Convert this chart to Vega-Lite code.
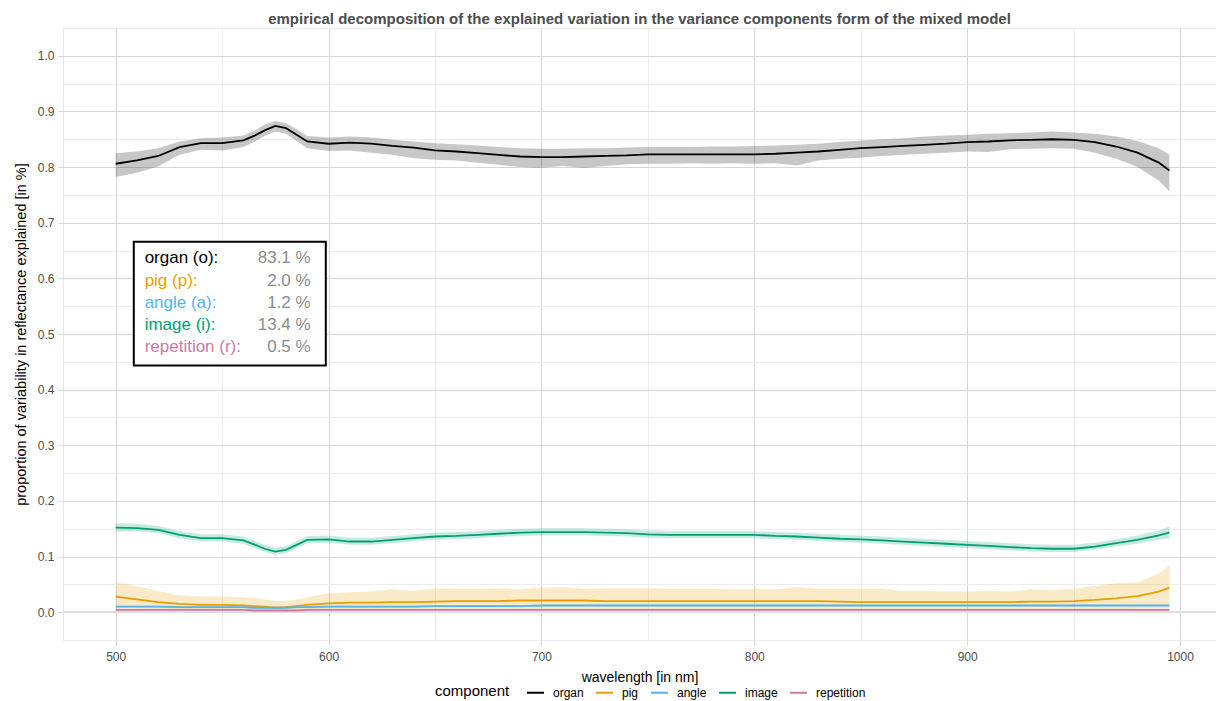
{
  "$schema": "https://vega.github.io/schema/vega-lite/v6.json",
  "width": 1153,
  "height": 612,
  "autosize": {"type": "none"},
  "padding": {"left": 63, "top": 28, "right": 0, "bottom": 61},
  "background": "white",
  "title": {"text": "empirical decomposition of the explained variation in the variance components form of the mixed model", "fontSize": 15, "fontWeight": "bold", "color": "#4d4d4d", "font": "Liberation Sans", "anchor": "middle", "offset": -5},
  "config": {
    "font": "Liberation Sans",
    "view": {"stroke": "#e6e6e6", "strokeWidth": 1}
  },
  "resolve": {"axis": {"x": "independent", "y": "independent"}},
  "datasets": {
    "note": [
      {"c": "organ", "label": "organ (o):", "pct": "83.1 %"},
      {"c": "pig", "label": "pig (p):", "pct": "2.0 %"},
      {"c": "angle", "label": "angle (a):", "pct": "1.2 %"},
      {"c": "image", "label": "image (i):", "pct": "13.4 %"},
      {"c": "repetition", "label": "repetition (r):", "pct": "0.5 %"}
    ],
    "series": [
      {"w":500,"c":"organ","v":0.806,"lo":0.782,"hi":0.825},
      {"w":510,"c":"organ","v":0.812,"lo":0.790,"hi":0.828},
      {"w":520,"c":"organ","v":0.820,"lo":0.801,"hi":0.834},
      {"w":530,"c":"organ","v":0.836,"lo":0.822,"hi":0.846},
      {"w":540,"c":"organ","v":0.843,"lo":0.831,"hi":0.852},
      {"w":550,"c":"organ","v":0.843,"lo":0.830,"hi":0.853},
      {"w":560,"c":"organ","v":0.848,"lo":0.836,"hi":0.857},
      {"w":565,"c":"organ","v":0.856,"lo":0.845,"hi":0.865},
      {"w":570,"c":"organ","v":0.866,"lo":0.856,"hi":0.876},
      {"w":575,"c":"organ","v":0.874,"lo":0.864,"hi":0.883},
      {"w":580,"c":"organ","v":0.870,"lo":0.860,"hi":0.879},
      {"w":585,"c":"organ","v":0.858,"lo":0.847,"hi":0.868},
      {"w":590,"c":"organ","v":0.846,"lo":0.834,"hi":0.856},
      {"w":600,"c":"organ","v":0.842,"lo":0.829,"hi":0.853},
      {"w":610,"c":"organ","v":0.844,"lo":0.830,"hi":0.855},
      {"w":620,"c":"organ","v":0.842,"lo":0.826,"hi":0.853},
      {"w":630,"c":"organ","v":0.838,"lo":0.822,"hi":0.849},
      {"w":640,"c":"organ","v":0.835,"lo":0.816,"hi":0.846},
      {"w":650,"c":"organ","v":0.830,"lo":0.813,"hi":0.843},
      {"w":660,"c":"organ","v":0.828,"lo":0.812,"hi":0.841},
      {"w":670,"c":"organ","v":0.825,"lo":0.808,"hi":0.839},
      {"w":680,"c":"organ","v":0.822,"lo":0.804,"hi":0.836},
      {"w":690,"c":"organ","v":0.819,"lo":0.800,"hi":0.834},
      {"w":700,"c":"organ","v":0.818,"lo":0.799,"hi":0.833},
      {"w":710,"c":"organ","v":0.818,"lo":0.802,"hi":0.833},
      {"w":720,"c":"organ","v":0.819,"lo":0.799,"hi":0.834},
      {"w":730,"c":"organ","v":0.820,"lo":0.802,"hi":0.834},
      {"w":740,"c":"organ","v":0.821,"lo":0.805,"hi":0.835},
      {"w":750,"c":"organ","v":0.823,"lo":0.806,"hi":0.836},
      {"w":760,"c":"organ","v":0.823,"lo":0.806,"hi":0.836},
      {"w":770,"c":"organ","v":0.823,"lo":0.807,"hi":0.836},
      {"w":780,"c":"organ","v":0.823,"lo":0.806,"hi":0.837},
      {"w":790,"c":"organ","v":0.823,"lo":0.807,"hi":0.837},
      {"w":800,"c":"organ","v":0.823,"lo":0.806,"hi":0.838},
      {"w":810,"c":"organ","v":0.824,"lo":0.807,"hi":0.839},
      {"w":820,"c":"organ","v":0.826,"lo":0.803,"hi":0.840},
      {"w":830,"c":"organ","v":0.828,"lo":0.812,"hi":0.842},
      {"w":840,"c":"organ","v":0.831,"lo":0.815,"hi":0.845},
      {"w":850,"c":"organ","v":0.834,"lo":0.817,"hi":0.848},
      {"w":860,"c":"organ","v":0.836,"lo":0.820,"hi":0.850},
      {"w":870,"c":"organ","v":0.838,"lo":0.822,"hi":0.852},
      {"w":880,"c":"organ","v":0.840,"lo":0.824,"hi":0.855},
      {"w":890,"c":"organ","v":0.842,"lo":0.826,"hi":0.857},
      {"w":900,"c":"organ","v":0.845,"lo":0.828,"hi":0.858},
      {"w":910,"c":"organ","v":0.846,"lo":0.827,"hi":0.860},
      {"w":920,"c":"organ","v":0.848,"lo":0.832,"hi":0.861},
      {"w":930,"c":"organ","v":0.849,"lo":0.833,"hi":0.862},
      {"w":940,"c":"organ","v":0.850,"lo":0.834,"hi":0.864},
      {"w":950,"c":"organ","v":0.849,"lo":0.833,"hi":0.862},
      {"w":960,"c":"organ","v":0.845,"lo":0.826,"hi":0.860},
      {"w":970,"c":"organ","v":0.837,"lo":0.815,"hi":0.855},
      {"w":980,"c":"organ","v":0.826,"lo":0.800,"hi":0.847},
      {"w":990,"c":"organ","v":0.808,"lo":0.776,"hi":0.834},
      {"w":995,"c":"organ","v":0.794,"lo":0.756,"hi":0.822},

      {"w":500,"c":"pig","v":0.028,"lo":0.006,"hi":0.054},
      {"w":510,"c":"pig","v":0.023,"lo":0.006,"hi":0.047},
      {"w":520,"c":"pig","v":0.018,"lo":0.005,"hi":0.038},
      {"w":530,"c":"pig","v":0.015,"lo":0.005,"hi":0.030},
      {"w":540,"c":"pig","v":0.013,"lo":0.004,"hi":0.028},
      {"w":550,"c":"pig","v":0.013,"lo":0.004,"hi":0.028},
      {"w":560,"c":"pig","v":0.012,"lo":0.004,"hi":0.027},
      {"w":565,"c":"pig","v":0.011,"lo":0.004,"hi":0.025},
      {"w":570,"c":"pig","v":0.010,"lo":0.003,"hi":0.023},
      {"w":575,"c":"pig","v":0.008,"lo":0.003,"hi":0.020},
      {"w":580,"c":"pig","v":0.009,"lo":0.003,"hi":0.020},
      {"w":585,"c":"pig","v":0.011,"lo":0.004,"hi":0.023},
      {"w":590,"c":"pig","v":0.013,"lo":0.004,"hi":0.027},
      {"w":600,"c":"pig","v":0.016,"lo":0.005,"hi":0.034},
      {"w":610,"c":"pig","v":0.017,"lo":0.005,"hi":0.036},
      {"w":620,"c":"pig","v":0.017,"lo":0.005,"hi":0.037},
      {"w":630,"c":"pig","v":0.018,"lo":0.005,"hi":0.041},
      {"w":640,"c":"pig","v":0.018,"lo":0.005,"hi":0.038},
      {"w":650,"c":"pig","v":0.019,"lo":0.005,"hi":0.043},
      {"w":660,"c":"pig","v":0.020,"lo":0.005,"hi":0.042},
      {"w":670,"c":"pig","v":0.020,"lo":0.005,"hi":0.042},
      {"w":680,"c":"pig","v":0.020,"lo":0.005,"hi":0.043},
      {"w":690,"c":"pig","v":0.021,"lo":0.005,"hi":0.041},
      {"w":700,"c":"pig","v":0.021,"lo":0.005,"hi":0.044},
      {"w":710,"c":"pig","v":0.021,"lo":0.005,"hi":0.045},
      {"w":720,"c":"pig","v":0.021,"lo":0.005,"hi":0.042},
      {"w":730,"c":"pig","v":0.020,"lo":0.005,"hi":0.043},
      {"w":740,"c":"pig","v":0.020,"lo":0.005,"hi":0.043},
      {"w":750,"c":"pig","v":0.020,"lo":0.005,"hi":0.043},
      {"w":760,"c":"pig","v":0.020,"lo":0.005,"hi":0.042},
      {"w":770,"c":"pig","v":0.020,"lo":0.005,"hi":0.042},
      {"w":780,"c":"pig","v":0.020,"lo":0.005,"hi":0.042},
      {"w":790,"c":"pig","v":0.020,"lo":0.005,"hi":0.041},
      {"w":800,"c":"pig","v":0.020,"lo":0.005,"hi":0.042},
      {"w":810,"c":"pig","v":0.020,"lo":0.005,"hi":0.041},
      {"w":820,"c":"pig","v":0.020,"lo":0.005,"hi":0.045},
      {"w":830,"c":"pig","v":0.020,"lo":0.005,"hi":0.042},
      {"w":840,"c":"pig","v":0.019,"lo":0.005,"hi":0.042},
      {"w":850,"c":"pig","v":0.018,"lo":0.005,"hi":0.042},
      {"w":860,"c":"pig","v":0.018,"lo":0.005,"hi":0.042},
      {"w":870,"c":"pig","v":0.018,"lo":0.005,"hi":0.038},
      {"w":880,"c":"pig","v":0.018,"lo":0.005,"hi":0.038},
      {"w":890,"c":"pig","v":0.018,"lo":0.005,"hi":0.037},
      {"w":900,"c":"pig","v":0.018,"lo":0.005,"hi":0.037},
      {"w":910,"c":"pig","v":0.018,"lo":0.005,"hi":0.038},
      {"w":920,"c":"pig","v":0.018,"lo":0.005,"hi":0.037},
      {"w":930,"c":"pig","v":0.019,"lo":0.005,"hi":0.041},
      {"w":940,"c":"pig","v":0.019,"lo":0.005,"hi":0.040},
      {"w":950,"c":"pig","v":0.020,"lo":0.005,"hi":0.042},
      {"w":960,"c":"pig","v":0.022,"lo":0.005,"hi":0.047},
      {"w":970,"c":"pig","v":0.025,"lo":0.005,"hi":0.052},
      {"w":980,"c":"pig","v":0.029,"lo":0.006,"hi":0.053},
      {"w":990,"c":"pig","v":0.037,"lo":0.006,"hi":0.070},
      {"w":995,"c":"pig","v":0.044,"lo":0.006,"hi":0.084},

      {"w":500,"c":"angle","v":0.010,"lo":0.008,"hi":0.012},
      {"w":510,"c":"angle","v":0.010,"lo":0.008,"hi":0.012},
      {"w":520,"c":"angle","v":0.010,"lo":0.008,"hi":0.012},
      {"w":530,"c":"angle","v":0.009,"lo":0.007,"hi":0.011},
      {"w":540,"c":"angle","v":0.009,"lo":0.007,"hi":0.011},
      {"w":550,"c":"angle","v":0.009,"lo":0.007,"hi":0.011},
      {"w":560,"c":"angle","v":0.009,"lo":0.007,"hi":0.011},
      {"w":565,"c":"angle","v":0.008,"lo":0.006,"hi":0.010},
      {"w":570,"c":"angle","v":0.008,"lo":0.006,"hi":0.010},
      {"w":575,"c":"angle","v":0.008,"lo":0.006,"hi":0.010},
      {"w":580,"c":"angle","v":0.008,"lo":0.006,"hi":0.010},
      {"w":585,"c":"angle","v":0.009,"lo":0.007,"hi":0.011},
      {"w":590,"c":"angle","v":0.009,"lo":0.007,"hi":0.011},
      {"w":600,"c":"angle","v":0.010,"lo":0.008,"hi":0.012},
      {"w":610,"c":"angle","v":0.010,"lo":0.008,"hi":0.012},
      {"w":620,"c":"angle","v":0.010,"lo":0.008,"hi":0.012},
      {"w":630,"c":"angle","v":0.010,"lo":0.008,"hi":0.012},
      {"w":640,"c":"angle","v":0.010,"lo":0.008,"hi":0.012},
      {"w":650,"c":"angle","v":0.011,"lo":0.009,"hi":0.013},
      {"w":660,"c":"angle","v":0.011,"lo":0.009,"hi":0.013},
      {"w":670,"c":"angle","v":0.011,"lo":0.009,"hi":0.013},
      {"w":680,"c":"angle","v":0.011,"lo":0.009,"hi":0.013},
      {"w":690,"c":"angle","v":0.011,"lo":0.009,"hi":0.013},
      {"w":700,"c":"angle","v":0.012,"lo":0.010,"hi":0.014},
      {"w":710,"c":"angle","v":0.012,"lo":0.010,"hi":0.014},
      {"w":720,"c":"angle","v":0.012,"lo":0.010,"hi":0.014},
      {"w":730,"c":"angle","v":0.012,"lo":0.010,"hi":0.014},
      {"w":740,"c":"angle","v":0.012,"lo":0.010,"hi":0.014},
      {"w":750,"c":"angle","v":0.012,"lo":0.010,"hi":0.014},
      {"w":760,"c":"angle","v":0.012,"lo":0.010,"hi":0.014},
      {"w":770,"c":"angle","v":0.012,"lo":0.010,"hi":0.014},
      {"w":780,"c":"angle","v":0.012,"lo":0.010,"hi":0.014},
      {"w":790,"c":"angle","v":0.012,"lo":0.010,"hi":0.014},
      {"w":800,"c":"angle","v":0.012,"lo":0.010,"hi":0.014},
      {"w":810,"c":"angle","v":0.012,"lo":0.010,"hi":0.014},
      {"w":820,"c":"angle","v":0.012,"lo":0.010,"hi":0.014},
      {"w":830,"c":"angle","v":0.012,"lo":0.010,"hi":0.014},
      {"w":840,"c":"angle","v":0.012,"lo":0.010,"hi":0.014},
      {"w":850,"c":"angle","v":0.012,"lo":0.010,"hi":0.014},
      {"w":860,"c":"angle","v":0.012,"lo":0.010,"hi":0.014},
      {"w":870,"c":"angle","v":0.012,"lo":0.010,"hi":0.014},
      {"w":880,"c":"angle","v":0.012,"lo":0.010,"hi":0.014},
      {"w":890,"c":"angle","v":0.012,"lo":0.010,"hi":0.014},
      {"w":900,"c":"angle","v":0.012,"lo":0.010,"hi":0.014},
      {"w":910,"c":"angle","v":0.012,"lo":0.010,"hi":0.014},
      {"w":920,"c":"angle","v":0.012,"lo":0.010,"hi":0.014},
      {"w":930,"c":"angle","v":0.012,"lo":0.010,"hi":0.014},
      {"w":940,"c":"angle","v":0.012,"lo":0.010,"hi":0.014},
      {"w":950,"c":"angle","v":0.012,"lo":0.010,"hi":0.014},
      {"w":960,"c":"angle","v":0.012,"lo":0.010,"hi":0.014},
      {"w":970,"c":"angle","v":0.012,"lo":0.010,"hi":0.014},
      {"w":980,"c":"angle","v":0.012,"lo":0.010,"hi":0.014},
      {"w":990,"c":"angle","v":0.012,"lo":0.010,"hi":0.014},
      {"w":995,"c":"angle","v":0.012,"lo":0.010,"hi":0.014},

      {"w":500,"c":"image","v":0.152,"lo":0.145,"hi":0.160},
      {"w":510,"c":"image","v":0.151,"lo":0.145,"hi":0.159},
      {"w":520,"c":"image","v":0.148,"lo":0.142,"hi":0.155},
      {"w":530,"c":"image","v":0.139,"lo":0.133,"hi":0.146},
      {"w":540,"c":"image","v":0.133,"lo":0.127,"hi":0.140},
      {"w":550,"c":"image","v":0.133,"lo":0.127,"hi":0.140},
      {"w":560,"c":"image","v":0.129,"lo":0.123,"hi":0.136},
      {"w":565,"c":"image","v":0.122,"lo":0.116,"hi":0.129},
      {"w":570,"c":"image","v":0.114,"lo":0.108,"hi":0.121},
      {"w":575,"c":"image","v":0.109,"lo":0.103,"hi":0.116},
      {"w":580,"c":"image","v":0.112,"lo":0.106,"hi":0.119},
      {"w":585,"c":"image","v":0.121,"lo":0.115,"hi":0.128},
      {"w":590,"c":"image","v":0.130,"lo":0.124,"hi":0.137},
      {"w":600,"c":"image","v":0.131,"lo":0.125,"hi":0.138},
      {"w":610,"c":"image","v":0.127,"lo":0.121,"hi":0.134},
      {"w":620,"c":"image","v":0.127,"lo":0.121,"hi":0.134},
      {"w":630,"c":"image","v":0.130,"lo":0.124,"hi":0.137},
      {"w":640,"c":"image","v":0.133,"lo":0.127,"hi":0.140},
      {"w":650,"c":"image","v":0.136,"lo":0.130,"hi":0.143},
      {"w":660,"c":"image","v":0.137,"lo":0.131,"hi":0.144},
      {"w":670,"c":"image","v":0.139,"lo":0.133,"hi":0.146},
      {"w":680,"c":"image","v":0.141,"lo":0.135,"hi":0.148},
      {"w":690,"c":"image","v":0.143,"lo":0.137,"hi":0.150},
      {"w":700,"c":"image","v":0.144,"lo":0.138,"hi":0.151},
      {"w":710,"c":"image","v":0.144,"lo":0.138,"hi":0.151},
      {"w":720,"c":"image","v":0.144,"lo":0.138,"hi":0.151},
      {"w":730,"c":"image","v":0.143,"lo":0.137,"hi":0.150},
      {"w":740,"c":"image","v":0.142,"lo":0.136,"hi":0.149},
      {"w":750,"c":"image","v":0.140,"lo":0.134,"hi":0.147},
      {"w":760,"c":"image","v":0.139,"lo":0.133,"hi":0.146},
      {"w":770,"c":"image","v":0.139,"lo":0.133,"hi":0.146},
      {"w":780,"c":"image","v":0.139,"lo":0.133,"hi":0.146},
      {"w":790,"c":"image","v":0.139,"lo":0.133,"hi":0.146},
      {"w":800,"c":"image","v":0.139,"lo":0.133,"hi":0.146},
      {"w":810,"c":"image","v":0.137,"lo":0.131,"hi":0.144},
      {"w":820,"c":"image","v":0.136,"lo":0.130,"hi":0.143},
      {"w":830,"c":"image","v":0.134,"lo":0.128,"hi":0.141},
      {"w":840,"c":"image","v":0.132,"lo":0.126,"hi":0.139},
      {"w":850,"c":"image","v":0.131,"lo":0.125,"hi":0.138},
      {"w":860,"c":"image","v":0.129,"lo":0.123,"hi":0.136},
      {"w":870,"c":"image","v":0.127,"lo":0.121,"hi":0.134},
      {"w":880,"c":"image","v":0.125,"lo":0.119,"hi":0.132},
      {"w":890,"c":"image","v":0.123,"lo":0.117,"hi":0.130},
      {"w":900,"c":"image","v":0.121,"lo":0.115,"hi":0.128},
      {"w":910,"c":"image","v":0.119,"lo":0.113,"hi":0.126},
      {"w":920,"c":"image","v":0.117,"lo":0.111,"hi":0.124},
      {"w":930,"c":"image","v":0.115,"lo":0.109,"hi":0.122},
      {"w":940,"c":"image","v":0.114,"lo":0.108,"hi":0.121},
      {"w":950,"c":"image","v":0.114,"lo":0.108,"hi":0.121},
      {"w":960,"c":"image","v":0.118,"lo":0.112,"hi":0.125},
      {"w":970,"c":"image","v":0.124,"lo":0.118,"hi":0.131},
      {"w":980,"c":"image","v":0.130,"lo":0.123,"hi":0.138},
      {"w":990,"c":"image","v":0.138,"lo":0.130,"hi":0.147},
      {"w":995,"c":"image","v":0.143,"lo":0.133,"hi":0.154},

      {"w":500,"c":"repetition","v":0.004,"lo":0.001,"hi":0.006},
      {"w":510,"c":"repetition","v":0.004,"lo":0.001,"hi":0.006},
      {"w":520,"c":"repetition","v":0.004,"lo":0.001,"hi":0.006},
      {"w":530,"c":"repetition","v":0.004,"lo":0.001,"hi":0.006},
      {"w":540,"c":"repetition","v":0.004,"lo":0.001,"hi":0.006},
      {"w":550,"c":"repetition","v":0.004,"lo":0.001,"hi":0.006},
      {"w":560,"c":"repetition","v":0.004,"lo":0.001,"hi":0.006},
      {"w":565,"c":"repetition","v":0.003,"lo":0.001,"hi":0.005},
      {"w":570,"c":"repetition","v":0.003,"lo":0.001,"hi":0.005},
      {"w":575,"c":"repetition","v":0.003,"lo":0.001,"hi":0.005},
      {"w":580,"c":"repetition","v":0.003,"lo":0.001,"hi":0.005},
      {"w":585,"c":"repetition","v":0.003,"lo":0.001,"hi":0.005},
      {"w":590,"c":"repetition","v":0.004,"lo":0.001,"hi":0.006},
      {"w":600,"c":"repetition","v":0.004,"lo":0.001,"hi":0.006},
      {"w":610,"c":"repetition","v":0.004,"lo":0.001,"hi":0.006},
      {"w":620,"c":"repetition","v":0.004,"lo":0.001,"hi":0.006},
      {"w":630,"c":"repetition","v":0.004,"lo":0.001,"hi":0.006},
      {"w":640,"c":"repetition","v":0.004,"lo":0.001,"hi":0.006},
      {"w":650,"c":"repetition","v":0.004,"lo":0.001,"hi":0.006},
      {"w":660,"c":"repetition","v":0.004,"lo":0.001,"hi":0.006},
      {"w":670,"c":"repetition","v":0.004,"lo":0.001,"hi":0.006},
      {"w":680,"c":"repetition","v":0.004,"lo":0.001,"hi":0.006},
      {"w":690,"c":"repetition","v":0.004,"lo":0.001,"hi":0.006},
      {"w":700,"c":"repetition","v":0.004,"lo":0.001,"hi":0.006},
      {"w":710,"c":"repetition","v":0.004,"lo":0.001,"hi":0.006},
      {"w":720,"c":"repetition","v":0.004,"lo":0.001,"hi":0.006},
      {"w":730,"c":"repetition","v":0.004,"lo":0.001,"hi":0.006},
      {"w":740,"c":"repetition","v":0.004,"lo":0.001,"hi":0.006},
      {"w":750,"c":"repetition","v":0.004,"lo":0.001,"hi":0.006},
      {"w":760,"c":"repetition","v":0.004,"lo":0.001,"hi":0.006},
      {"w":770,"c":"repetition","v":0.004,"lo":0.001,"hi":0.006},
      {"w":780,"c":"repetition","v":0.004,"lo":0.001,"hi":0.006},
      {"w":790,"c":"repetition","v":0.004,"lo":0.001,"hi":0.006},
      {"w":800,"c":"repetition","v":0.004,"lo":0.001,"hi":0.006},
      {"w":810,"c":"repetition","v":0.004,"lo":0.001,"hi":0.006},
      {"w":820,"c":"repetition","v":0.004,"lo":0.001,"hi":0.006},
      {"w":830,"c":"repetition","v":0.004,"lo":0.001,"hi":0.006},
      {"w":840,"c":"repetition","v":0.004,"lo":0.001,"hi":0.006},
      {"w":850,"c":"repetition","v":0.004,"lo":0.001,"hi":0.006},
      {"w":860,"c":"repetition","v":0.004,"lo":0.001,"hi":0.006},
      {"w":870,"c":"repetition","v":0.004,"lo":0.001,"hi":0.006},
      {"w":880,"c":"repetition","v":0.004,"lo":0.001,"hi":0.006},
      {"w":890,"c":"repetition","v":0.004,"lo":0.001,"hi":0.006},
      {"w":900,"c":"repetition","v":0.004,"lo":0.001,"hi":0.006},
      {"w":910,"c":"repetition","v":0.004,"lo":0.001,"hi":0.006},
      {"w":920,"c":"repetition","v":0.004,"lo":0.001,"hi":0.006},
      {"w":930,"c":"repetition","v":0.004,"lo":0.001,"hi":0.006},
      {"w":940,"c":"repetition","v":0.004,"lo":0.001,"hi":0.006},
      {"w":950,"c":"repetition","v":0.004,"lo":0.001,"hi":0.006},
      {"w":960,"c":"repetition","v":0.004,"lo":0.001,"hi":0.006},
      {"w":970,"c":"repetition","v":0.004,"lo":0.001,"hi":0.006},
      {"w":980,"c":"repetition","v":0.004,"lo":0.001,"hi":0.006},
      {"w":990,"c":"repetition","v":0.004,"lo":0.001,"hi":0.006},
      {"w":995,"c":"repetition","v":0.004,"lo":0.001,"hi":0.006}
    ]
  },
  "layer": [
    {
      "data": {"name": "series"},
      "mark": {"type": "area", "fillOpacity": 0.22},
      "encoding": {
        "x": {
          "field": "w", "type": "quantitative",
          "scale": {"domain": [475.25, 1016.9], "nice": false, "zero": false},
          "axis": {
            "title": "wavelength [in nm]",
            "values": [500, 550, 600, 650, 700, 750, 800, 850, 900, 950, 1000],
            "labelExpr": "datum.value % 100 === 0 ? datum.label : ''",
            "format": "d",
            "labelOverlap": false, "labelFlush": false,
            "domain": false,
            "grid": true,
            "gridColor": {"condition": {"test": "datum.value % 100 === 0", "value": "#d6d6d6"}, "value": "#ececec"},
            "gridWidth": 1,
            "ticks": true, "tickSize": 5, "tickColor": "#d6d6d6",
            "tickOpacity": {"condition": {"test": "datum.value % 100 === 0", "value": 1}, "value": 0},
            "labelFontSize": 12, "labelColor": "#4d4d4d", "labelPadding": 6,
            "titleFontSize": 14, "titleFontWeight": "normal", "titleColor": "#000000", "titlePadding": 8
          }
        },
        "y": {
          "field": "lo", "type": "quantitative",
          "scale": {"domain": [-0.05, 1.05], "nice": false, "zero": false},
          "axis": {
            "title": "proportion of variability in reflectance explained  [in %]",
            "values": [-0.05, 0, 0.05, 0.1, 0.15, 0.2, 0.25, 0.3, 0.35, 0.4, 0.45, 0.5, 0.55, 0.6, 0.65, 0.7, 0.75, 0.8, 0.85, 0.9, 0.95, 1.0, 1.05],
            "labelExpr": "(abs(datum.value*10 - round(datum.value*10)) < 0.001 && datum.value > -0.01 && datum.value < 1.01) ? format(datum.value, '.1f') : ''",
            "labelOverlap": false, "labelFlush": false,
            "domain": false,
            "grid": true,
            "gridColor": {"condition": {"test": "abs(datum.value*10 - round(datum.value*10)) < 0.001", "value": "#d6d6d6"}, "value": "#ececec"},
            "gridWidth": 1,
            "ticks": true, "tickSize": 5, "tickColor": "#d6d6d6",
            "tickOpacity": {"condition": {"test": "abs(datum.value*10 - round(datum.value*10)) < 0.001 && datum.value > -0.01 && datum.value < 1.01", "value": 1}, "value": 0},
            "labelFontSize": 12, "labelColor": "#4d4d4d", "labelPadding": 4,
            "titleFontSize": 14.5, "titleFontWeight": "normal", "titleColor": "#000000", "titlePadding": 9
          }
        },
        "y2": {"field": "hi"},
        "fill": {"field": "c", "type": "nominal", "legend": null,
          "scale": {"domain": ["repetition", "image", "angle", "pig", "organ"], "range": ["#CC79A7", "#009E73", "#56B4E9", "#E69F00", "#000000"]}}
      }
    },
    {
      "data": {"name": "note"},
      "transform": [{"filter": "datum.c === 'organ'"}],
      "mark": {"type": "rule", "color": "#e0e0e0", "strokeWidth": 2.2},
      "encoding": {
        "y": {"datum": 0, "type": "quantitative", "axis": null}
      }
    },
    {
      "data": {"name": "series"},
      "mark": {"type": "line", "strokeWidth": 1.8},
      "encoding": {
        "x": {"field": "w", "type": "quantitative", "axis": null},
        "y": {"field": "v", "type": "quantitative", "axis": null},
        "color": {"field": "c", "type": "nominal",
          "scale": {"domain": ["organ", "pig", "angle", "image", "repetition"], "range": ["#000000", "#E69F00", "#56B4E9", "#009E73", "#CC79A7"]},
          "legend": {
            "title": "component", "orient": "none", "legendX": 372, "legendY": 655,
            "direction": "horizontal", "titleOrient": "left", "titleBaseline": "middle",
            "titleFontSize": 15, "titleFontWeight": "normal", "titleColor": "#000000", "titlePadding": 16,
            "labelFontSize": 12, "labelColor": "#000000", "labelOffset": 8,
            "symbolType": "stroke", "symbolSize": 289, "symbolStrokeWidth": 2,
            "columnPadding": 8
          }
        }
      }
    },
    {
      "data": {"name": "note"},
      "transform": [{"filter": "datum.c === 'organ'"}],
      "mark": {"type": "rect", "fill": "white", "stroke": "#000000", "strokeWidth": 2},
      "encoding": {
        "x": {"datum": 508.5, "type": "quantitative", "axis": null},
        "x2": {"datum": 598.7},
        "y": {"datum": 0.4435, "type": "quantitative", "axis": null},
        "y2": {"datum": 0.666}
      }
    },
    {
      "data": {"name": "note"},
      "transform": [{"filter": "datum.c === 'organ'"}],
      "encoding": {"y": {"datum": 0.636, "type": "quantitative", "axis": null}},
      "layer": [
        {"mark": {"type": "text", "align": "left", "baseline": "middle", "fontSize": 17, "color": "#000000"},
         "encoding": {"x": {"datum": 513.6, "type": "quantitative", "axis": null}, "text": {"field": "label"}}},
        {"mark": {"type": "text", "align": "right", "baseline": "middle", "fontSize": 17, "color": "#8c8c8c"},
         "encoding": {"x": {"datum": 591.6, "type": "quantitative", "axis": null}, "text": {"field": "pct"}}}
      ]
    },
    {
      "data": {"name": "note"},
      "transform": [{"filter": "datum.c === 'pig'"}],
      "encoding": {"y": {"datum": 0.595, "type": "quantitative", "axis": null}},
      "layer": [
        {"mark": {"type": "text", "align": "left", "baseline": "middle", "fontSize": 17, "color": "#E69F00"},
         "encoding": {"x": {"datum": 513.6, "type": "quantitative", "axis": null}, "text": {"field": "label"}}},
        {"mark": {"type": "text", "align": "right", "baseline": "middle", "fontSize": 17, "color": "#8c8c8c"},
         "encoding": {"x": {"datum": 591.6, "type": "quantitative", "axis": null}, "text": {"field": "pct"}}}
      ]
    },
    {
      "data": {"name": "note"},
      "transform": [{"filter": "datum.c === 'angle'"}],
      "encoding": {"y": {"datum": 0.555, "type": "quantitative", "axis": null}},
      "layer": [
        {"mark": {"type": "text", "align": "left", "baseline": "middle", "fontSize": 17, "color": "#56B4E9"},
         "encoding": {"x": {"datum": 513.6, "type": "quantitative", "axis": null}, "text": {"field": "label"}}},
        {"mark": {"type": "text", "align": "right", "baseline": "middle", "fontSize": 17, "color": "#8c8c8c"},
         "encoding": {"x": {"datum": 591.6, "type": "quantitative", "axis": null}, "text": {"field": "pct"}}}
      ]
    },
    {
      "data": {"name": "note"},
      "transform": [{"filter": "datum.c === 'image'"}],
      "encoding": {"y": {"datum": 0.516, "type": "quantitative", "axis": null}},
      "layer": [
        {"mark": {"type": "text", "align": "left", "baseline": "middle", "fontSize": 17, "color": "#009E73"},
         "encoding": {"x": {"datum": 513.6, "type": "quantitative", "axis": null}, "text": {"field": "label"}}},
        {"mark": {"type": "text", "align": "right", "baseline": "middle", "fontSize": 17, "color": "#8c8c8c"},
         "encoding": {"x": {"datum": 591.6, "type": "quantitative", "axis": null}, "text": {"field": "pct"}}}
      ]
    },
    {
      "data": {"name": "note"},
      "transform": [{"filter": "datum.c === 'repetition'"}],
      "encoding": {"y": {"datum": 0.476, "type": "quantitative", "axis": null}},
      "layer": [
        {"mark": {"type": "text", "align": "left", "baseline": "middle", "fontSize": 17, "color": "#CC79A7"},
         "encoding": {"x": {"datum": 513.6, "type": "quantitative", "axis": null}, "text": {"field": "label"}}},
        {"mark": {"type": "text", "align": "right", "baseline": "middle", "fontSize": 17, "color": "#8c8c8c"},
         "encoding": {"x": {"datum": 591.6, "type": "quantitative", "axis": null}, "text": {"field": "pct"}}}
      ]
    }
  ]
}
